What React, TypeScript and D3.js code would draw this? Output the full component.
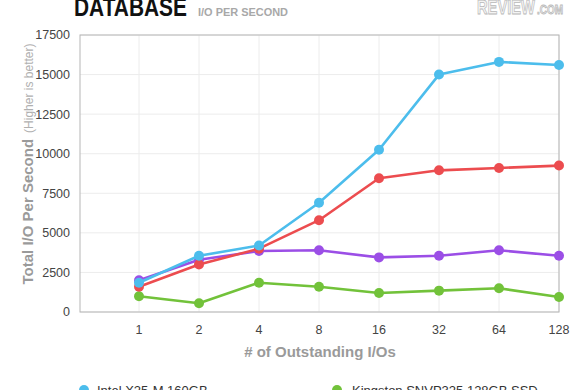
import React from "react";
import * as d3 from "d3";

const categories = ["1", "2", "4", "8", "16", "32", "64", "128"];
const yTicks = [0, 2500, 5000, 7500, 10000, 12500, 15000, 17500];

const intel = [1850, 3550, 4200, 6900, 10250, 15000, 15800, 15600];
const red = [1600, 3000, 4000, 5800, 8450, 8950, 9100, 9250];
const purple = [2000, 3300, 3850, 3900, 3450, 3550, 3900, 3550];
const kingston = [1000, 550, 1850, 1600, 1200, 1350, 1500, 950];

const series = [
  { name: "Intel X25-M 160GB", color: "#4cbdec", values: intel },
  { name: "red", color: "#ec4c4f", values: red },
  { name: "purple", color: "#9b4ee6", values: purple },
  { name: "Kingston SNVP325 128GB SSD", color: "#72c23a", values: kingston },
];
const drawOrder = [3, 2, 1, 0];

const W = 580;
const H = 390;
const left = 80, right = 559, top = 35, bottom = 312;
const font = "'Liberation Sans', Arial, Helvetica, sans-serif";

export default function App() {
  const x = d3.scaleLinear().domain([-1, categories.length - 1]).range([left - 1, right]);
  const y = d3.scaleLinear().domain([0, 17500]).range([bottom, top]);
  const line = d3
    .line<number>()
    .x((_, i) => x(i))
    .y((d) => y(d));

  return (
    <svg width={W} height={H} style={{ position: "absolute", left: 0, top: 0, fontFamily: font }}>
      <rect width={W} height={H} fill="#fff" />
      {/* header */}
      <text x={74} y={16} fontSize={25} fontWeight="bold" fill="#111" textLength={113} lengthAdjust="spacingAndGlyphs">
        DATABASE
      </text>
      <text x={198} y={16} fontSize={11} fontWeight="bold" fill="#a8a8a8" textLength={90} lengthAdjust="spacingAndGlyphs">
        I/O PER SECOND
      </text>
      <g fill="#f4f4f4" stroke="#b8b8b8" strokeWidth={0.8} fontWeight="bold">
        <text x={477} y={14} fontSize={20} textLength={58} lengthAdjust="spacingAndGlyphs">
          REVIEW
        </text>
        <text x={537} y={14} fontSize={12} textLength={26} lengthAdjust="spacingAndGlyphs">
          .COM
        </text>
      </g>

      {/* grid */}
      {yTicks.map((t) => (
        <line key={"gy" + t} x1={left} x2={right} y1={y(t)} y2={y(t)} stroke="#ececec" strokeWidth={1} />
      ))}
      {categories.map((c, i) => (
        <line key={"gx" + c} x1={x(i)} x2={x(i)} y1={top} y2={bottom} stroke="#ececec" strokeWidth={1} />
      ))}
      <rect x={left} y={top} width={right - left} height={bottom - top} fill="none" stroke="#b5b5b5" strokeWidth={1} />

      {/* y tick labels */}
      {yTicks.map((t) => (
        <text key={"ty" + t} x={70} y={y(t)} dy="0.35em" textAnchor="end" fontSize={12.5} fill="#444">
          {t}
        </text>
      ))}
      {/* x tick labels */}
      {categories.map((c, i) => (
        <text key={"tx" + c} x={x(i)} y={334} textAnchor="middle" fontSize={12.5} fill="#444">
          {c}
        </text>
      ))}
      <text x={320} y={357} textAnchor="middle" fontSize={15} fontWeight="bold" fill="#9a9a9a">
        # of Outstanding I/Os
      </text>
      <text
        transform={`translate(33, 164) rotate(-90)`}
        textAnchor="middle"
        fontSize={15}
        fontWeight="bold"
        fill="#9a9a9a"
      >
        Total I/O Per Second
        <tspan fontSize={12} fontWeight="normal" fill="#b0b0b0" dx={6}>
          (Higher is better)
        </tspan>
      </text>

      {/* series */}
      {drawOrder.map((si) => {
        const s = series[si];
        return (
          <g key={s.name}>
            <path d={line(s.values) || ""} fill="none" stroke={s.color} strokeWidth={2.6} strokeLinejoin="round" />
            {s.values.map((v, i) => (
              <circle key={i} cx={x(i)} cy={y(v)} r={5} fill={s.color} />
            ))}
          </g>
        );
      })}

      {/* legend (cut by the frame) */}
      <circle cx={84} cy={390} r={5} fill={series[0].color} />
      <text x={97} y={395} fontSize={13} fill="#333">
        {series[0].name}
      </text>
      <circle cx={337} cy={390} r={5} fill={series[3].color} />
      <text x={352} y={395} fontSize={13} fill="#333">
        {series[3].name}
      </text>
    </svg>
  );
}
